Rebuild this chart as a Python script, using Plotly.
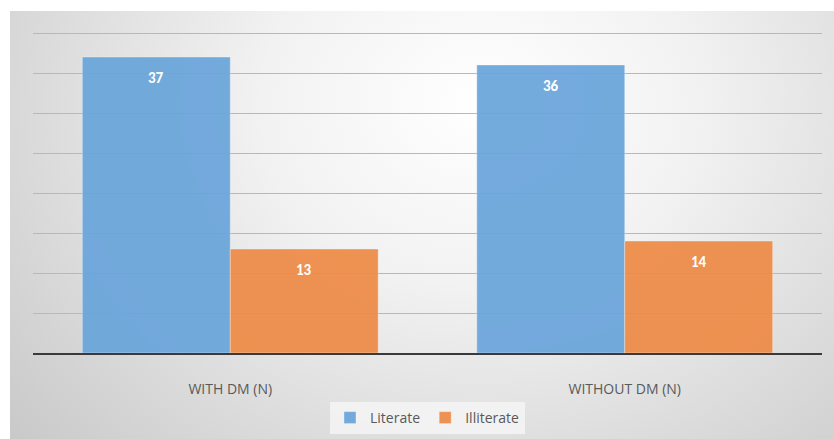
import base64
import plotly.graph_objects as go

categories = ["WITH DM (N)", "WITHOUT DM (N)"]
literate = [37, 36]
illiterate = [13, 14]
series_names = ["Literate", "Illiterate"]
colors = ["#6aa5db", "#ee8b47"]

W, H = 834, 439
ml, mr, mt, mb = 33, 12, 31, 86
pw, ph = W - ml - mr, H - mt - mb
bargap = 0.25
bar_px = pw / len(categories) * (1 - bargap) / len(series_names)

svg = (
    "<svg xmlns='http://www.w3.org/2000/svg' width='824' height='428' preserveAspectRatio='none'>"
    "<defs><radialGradient id='g' cx='0.57' cy='0.22' r='0.75' "
    "gradientTransform='translate(0.57 0.22) scale(1 1.6) translate(-0.57 -0.22)'>"
    "<stop offset='0' stop-color='#ffffff'/>"
    "<stop offset='0.35' stop-color='#f2f2f2'/>"
    "<stop offset='1' stop-color='#c9c9c9'/>"
    "</radialGradient></defs>"
    "<rect width='824' height='428' fill='url(#g)'/></svg>"
)
src = "data:image/svg+xml;base64," + base64.b64encode(svg.encode()).decode()

font_fam = "Carlito, Calibri, Lato, 'Open Sans', sans-serif"
axis_fam = "'Open Sans', 'Noto Sans', sans-serif"

fig = go.Figure()
annotations = []
for i, (name, vals, col) in enumerate(zip(series_names, [literate, illiterate], colors)):
    fig.add_trace(go.Bar(
        name=name, x=categories, y=vals,
        marker=dict(color=col, line=dict(color="rgba(255,255,255,0.35)", width=1)),
        opacity=0.93,
    ))
    for c, v in zip(categories, vals):
        annotations.append(dict(
            x=c, y=v, xref="x", yref="y", text=str(v), showarrow=False,
            xshift=(i - (len(series_names) - 1) / 2) * bar_px, yshift=-21,
            font=dict(color="white", size=15, family=font_fam, weight="bold"),
        ))

fig.update_layout(
    width=W, height=H,
    margin=dict(l=ml, r=mr, t=mt, b=mb, autoexpand=False),
    paper_bgcolor="white",
    plot_bgcolor="rgba(0,0,0,0)",
    barmode="group", bargap=bargap, bargroupgap=0,
    font=dict(family=axis_fam, color="#595959", size=14),
    showlegend=True,
    legend=dict(orientation="h", x=0.5, xanchor="center", y=(H - mb - 418) / ph, yanchor="middle",
                bgcolor="rgba(245,245,245,0.85)", font=dict(size=14, color="#595959", family=axis_fam),
                itemwidth=30, traceorder="normal"),
    annotations=annotations,
    images=[dict(source=src, xref="paper", yref="paper",
                 x=(10 - ml) / pw, y=(H - mb - 11) / ph,
                 sizex=(W - 10) / pw, sizey=(H - 11) / ph,
                 xanchor="left", yanchor="top", sizing="stretch", layer="below")],
)
fig.update_yaxes(range=[0, 40.25], dtick=5, showticklabels=False, gridcolor="#b8b8b8",
                 gridwidth=1, zeroline=False, showline=False)
fig.update_xaxes(showline=True, linecolor="#3a3a3a", linewidth=2, ticks="",
                 ticklabelstandoff=22,
                 tickfont=dict(size=14, color="#595959", family=axis_fam))

fig.write_html("out.html")
